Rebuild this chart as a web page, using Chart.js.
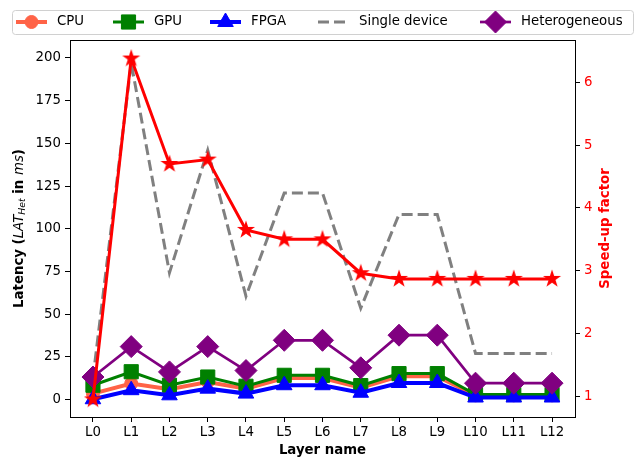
<!DOCTYPE html>
<html>
<head>
<meta charset="utf-8">
<script src="https://cdn.jsdelivr.net/npm/chart.js@4/dist/chart.umd.min.js"></script>
<style>
  html, body { margin: 0; padding: 0; background: #fff; }
  #wrap { width: 641px; height: 465px; }
</style>
</head>
<body>
<div id="wrap"><canvas id="latencyChart" width="641" height="465"></canvas></div>
<script>
// Per-layer latency (ms) for each device and the resulting speed-up

const layers = ['L0', 'L1', 'L2', 'L3', 'L4', 'L5', 'L6', 'L7', 'L8', 'L9', 'L10', 'L11', 'L12'];

const cpuLatency    = [3.5, 9.4, 6.0, 10.3, 6.4, 12.6, 12.6, 7.0, 13.6, 13.6, 2.5, 2.5, 2.5];
const gpuLatency    = [8.4, 16.3, 8.4, 13.2, 7.8, 14.2, 14.2, 8.2, 15.2, 15.2, 3.0, 3.0, 3.0];
const fpgaLatency   = [0.2, 5.5, 2.5, 6.4, 3.5, 8.4, 8.4, 4.0, 9.7, 9.7, 1.2, 1.2, 1.2];
const singleLatency = [12.5, 197, 74.2, 146, 60.5, 121, 121, 53.5, 108.4, 108.4, 27, 27, 27];
const heteroLatency = [13.2, 31.0, 16.2, 31.0, 17.0, 34.7, 34.7, 18.6, 37.7, 37.7, 9.6, 9.6, 9.6];
const speedUp       = [0.95, 6.38, 4.70, 4.77, 3.65, 3.50, 3.50, 2.96, 2.87, 2.87, 2.87, 2.87, 2.87];

const latencyTicks = [0, 25, 50, 75, 100, 125, 150, 175, 200];
const speedTicks   = [1, 2, 3, 4, 5, 6];

const colors = {
  cpu:    '#ff6347',
  gpu:    '#008000',
  fpga:   '#0000ff',
  single: '#808080',
  hetero: '#800080',
  speed:  '#ff0000',
  text:   '#000000'
};

const FONT = "'DejaVu Sans', sans-serif";
const FS   = 13.3;

// ── Filled five-point star used as a point style ─────────────────────────
function makeStar(size, color) {
  const c = document.createElement('canvas');
  c.width = size; c.height = size;
  const g = c.getContext('2d');
  const cx = size / 2, cy = size / 2, R = size / 2 - 0.5, r = R * 0.382;
  g.beginPath();
  for (let i = 0; i < 10; i++) {
    const a = -Math.PI / 2 + i * Math.PI / 5;
    const rad = i % 2 === 0 ? R : r;
    const px = cx + Math.cos(a) * rad, py = cy + Math.sin(a) * rad;
    if (i === 0) g.moveTo(px, py); else g.lineTo(px, py);
  }
  g.closePath();
  g.fillStyle = color;
  g.fill();
  return c;
}
const starImg = makeStar(20, colors.speed);

const xy = arr => arr.map((v, i) => ({ x: i, y: v }));

function series(label, data, color, style, radius, width, order, extra) {
  return Object.assign({
    label,
    data: xy(data),
    yAxisID: 'y',
    borderColor: color,
    backgroundColor: color,
    borderWidth: width,
    pointStyle: style,
    pointRadius: radius,
    pointHoverRadius: radius,
    pointBackgroundColor: color,
    pointBorderColor: color,
    pointBorderWidth: 1,
    tension: 0,
    order
  }, extra || {});
}

const datasets = [
  series('Speed-up', speedUp, colors.speed, starImg, 10, 3, 0, { yAxisID: 'y2' }),
  series('Heterogeneous', heteroLatency, colors.hetero, 'rectRot', 11, 2.7, 1),
  series('Single device', singleLatency, colors.single, false, 0, 3, 2, { borderDash: [11, 5] }),
  series('FPGA', fpgaLatency, colors.fpga, 'triangle', 9, 4, 3),
  series('GPU', gpuLatency, colors.gpu, 'rect', 10, 3, 4),
  series('CPU', cpuLatency, colors.cpu, 'circle', 6.5, 4, 5)
];

// legend entries, left to right, with the x of each handle start
const legendItems = [
  { label: 'CPU',           color: colors.cpu,    style: 'circle',   radius: 6.5, lw: 4,   x: 16 },
  { label: 'GPU',           color: colors.gpu,    style: 'rect',     radius: 10,  lw: 3,   x: 113 },
  { label: 'FPGA',          color: colors.fpga,   style: 'triangle', radius: 9,   lw: 4,   x: 210 },
  { label: 'Single device', color: colors.single, style: null,       radius: 0,   lw: 3,   x: 318, dash: [11, 5] },
  { label: 'Heterogeneous', color: colors.hetero, style: 'rectRot',  radius: 11,  lw: 2.7, x: 480 }
];

const chartDecor = {
  id: 'chartDecor',
  afterDraw(chart) {
    const ctx = chart.ctx;
    const a = chart.chartArea;

    // axes frame
    ctx.save();
    ctx.strokeStyle = '#000';
    ctx.lineWidth = 1;
    ctx.strokeRect(Math.round(a.left) + 0.5, Math.round(a.top) + 0.5,
                   Math.round(a.right - a.left), Math.round(a.bottom - a.top));
    ctx.restore();

    // x axis title
    ctx.save();
    ctx.fillStyle = colors.text;
    ctx.font = `bold ${FS}px ${FONT}`;
    ctx.textAlign = 'center';
    ctx.textBaseline = 'middle';
    ctx.fillText('Layer name', (a.left + a.right) / 2, 451);
    ctx.restore();

    // left y axis title, mixed bold / italic with subscript
    const midY = (a.top + a.bottom) / 2;
    const parts = [
      { t: 'Latency (', f: `bold ${FS}px ${FONT}`, dy: 0 },
      { t: 'LAT',       f: `italic ${FS}px ${FONT}`, dy: 0 },
      { t: 'Het',       f: `italic ${FS * 0.7}px ${FONT}`, dy: 3 },
      { t: ' in ',      f: `bold ${FS}px ${FONT}`, dy: 0 },
      { t: 'ms',        f: `italic ${FS}px ${FONT}`, dy: 0 },
      { t: ')',         f: `bold ${FS}px ${FONT}`, dy: 0 }
    ];
    ctx.save();
    let total = 0;
    parts.forEach(p => { ctx.font = p.f; p.w = ctx.measureText(p.t).width; total += p.w; });
    ctx.translate(20, midY);
    ctx.rotate(-Math.PI / 2);
    ctx.fillStyle = colors.text;
    ctx.textBaseline = 'middle';
    ctx.textAlign = 'left';
    let cx = -total / 2;
    parts.forEach(p => { ctx.font = p.f; ctx.fillText(p.t, cx, p.dy); cx += p.w; });
    ctx.restore();

    // right y axis title
    ctx.save();
    ctx.translate(606, midY);
    ctx.rotate(-Math.PI / 2);
    ctx.fillStyle = colors.speed;
    ctx.font = `bold ${FS}px ${FONT}`;
    ctx.textAlign = 'center';
    ctx.textBaseline = 'middle';
    ctx.fillText('Speed-up factor', 0, 0);
    ctx.restore();

    // legend box
    ctx.save();
    const bx = 12.5, by = 10.5, bw = 621, bh = 24, rr = 3;
    ctx.beginPath();
    ctx.moveTo(bx + rr, by);
    ctx.arcTo(bx + bw, by, bx + bw, by + bh, rr);
    ctx.arcTo(bx + bw, by + bh, bx, by + bh, rr);
    ctx.arcTo(bx, by + bh, bx, by, rr);
    ctx.arcTo(bx, by, bx + bw, by, rr);
    ctx.closePath();
    ctx.fillStyle = 'rgba(255,255,255,0.8)';
    ctx.fill();
    ctx.strokeStyle = '#d0d0d0';
    ctx.lineWidth = 1;
    ctx.stroke();

    const ly = 22;
    legendItems.forEach(it => {
      ctx.save();
      ctx.strokeStyle = it.color;
      ctx.lineWidth = it.lw;
      if (it.dash) ctx.setLineDash(it.dash);
      ctx.beginPath();
      ctx.moveTo(it.x, ly);
      ctx.lineTo(it.x + 31, ly);
      ctx.stroke();
      ctx.restore();
      if (it.style) {
        ctx.save();
        ctx.fillStyle = it.color;
        ctx.strokeStyle = it.color;
        ctx.lineWidth = 1;
        Chart.helpers.drawPoint(ctx, { pointStyle: it.style, radius: it.radius, borderWidth: 1, rotation: 0 }, it.x + 15.5, ly);
        ctx.restore();
      }
      ctx.fillStyle = colors.text;
      ctx.font = `${FS}px ${FONT}`;
      ctx.textAlign = 'left';
      ctx.textBaseline = 'middle';
      ctx.fillText(it.label, it.x + 41, ly);
    });
    ctx.restore();
  }
};

const axisGrid = { display: true, drawOnChartArea: false, drawTicks: true, tickLength: 5, tickColor: '#000', tickWidth: 1 };

new Chart(document.getElementById('latencyChart').getContext('2d'), {
  type: 'line',
  data: { datasets },
  options: {
    responsive: false,
    devicePixelRatio: 1,
    animation: false,
    layout: { padding: { top: 40, left: 0, right: 0, bottom: 0 } },
    plugins: {
      legend: { display: false },
      tooltip: { enabled: false }
    },
    scales: {
      x: {
        type: 'linear',
        min: -0.6,
        max: 12.6,
        grid: axisGrid,
        border: { display: false },
        afterBuildTicks: s => { s.ticks = layers.map((_, i) => ({ value: i })); },
        afterFit: s => { s.height = 48; },
        ticks: {
          color: colors.text,
          font: { family: FONT, size: FS },
          padding: 3,
          maxRotation: 0,
          autoSkip: false,
          callback: v => layers[v]
        }
      },
      y: {
        type: 'linear',
        position: 'left',
        min: -10.2,
        max: 210.5,
        grid: axisGrid,
        border: { display: false },
        afterBuildTicks: s => { s.ticks = latencyTicks.map(v => ({ value: v })); },
        afterFit: s => { s.width = 70; },
        ticks: {
          color: colors.text,
          font: { family: FONT, size: FS },
          padding: 4
        }
      },
      y2: {
        type: 'linear',
        position: 'right',
        min: 0.67,
        max: 6.675,
        grid: axisGrid,
        border: { display: false },
        afterBuildTicks: s => { s.ticks = speedTicks.map(v => ({ value: v })); },
        afterFit: s => { s.width = 66; },
        ticks: {
          color: colors.speed,
          font: { family: FONT, size: FS },
          padding: 4
        }
      }
    }
  },
  plugins: [chartDecor]
});
</script>
</body>
</html>
